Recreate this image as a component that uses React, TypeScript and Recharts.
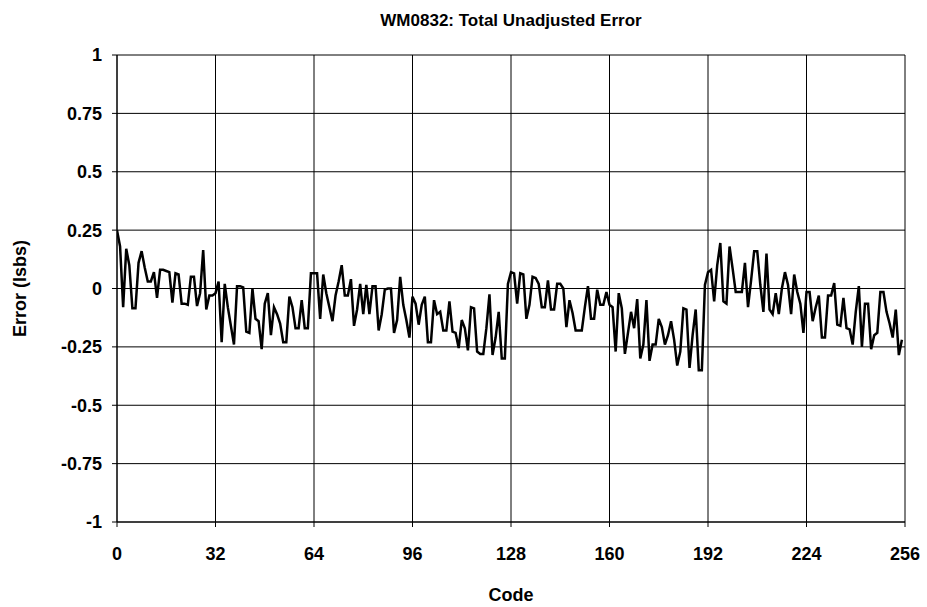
import React from "react";
import { LineChart, Line, XAxis, YAxis, CartesianGrid, Label } from "recharts";

const seg0 = [0.25, 0.18, -0.08, 0.17, 0.1, -0.085, -0.085, 0.11, 0.16, 0.09, 0.03, 0.03, 0.07, -0.04, 0.08, 0.08, 0.075, 0.07, -0.06, 0.065, 0.06, -0.065, -0.065, -0.07, 0.05, 0.05, -0.075, -0.02, 0.165, -0.09, -0.03, -0.03];
const seg1 = [-0.02, 0.03, -0.23, 0.02, -0.08, -0.16, -0.24, 0.01, 0.01, 0.005, -0.185, -0.19, 0.0, -0.13, -0.14, -0.26, -0.065, -0.02, -0.2, -0.08, -0.11, -0.15, -0.23, -0.23, -0.035, -0.08, -0.17, -0.17, -0.05, -0.17, -0.17, 0.065];
const seg2 = [0.065, 0.065, -0.13, 0.06, -0.02, -0.08, -0.14, -0.03, 0.03, 0.1, -0.03, -0.03, 0.04, -0.16, -0.09, 0.02, -0.11, 0.015, -0.11, 0.01, 0.01, -0.18, -0.11, -0.005, 0.0, 0.0, -0.19, -0.135, 0.05, -0.07, -0.135, -0.21];
const seg3 = [-0.035, -0.065, -0.155, -0.07, -0.035, -0.23, -0.23, -0.05, -0.11, -0.1, -0.18, -0.18, -0.055, -0.185, -0.19, -0.255, -0.135, -0.17, -0.265, -0.08, -0.085, -0.27, -0.28, -0.28, -0.17, -0.025, -0.285, -0.21, -0.1, -0.3, -0.3, 0.02];
const seg4 = [0.07, 0.065, -0.065, 0.065, 0.06, -0.13, -0.07, 0.05, 0.045, 0.02, -0.08, -0.08, 0.035, -0.09, -0.09, 0.02, 0.02, 0.0, -0.165, -0.05, -0.105, -0.18, -0.18, -0.18, -0.08, 0.01, -0.13, -0.13, -0.005, -0.07, -0.07, -0.015];
const seg5 = [-0.07, -0.08, -0.27, -0.02, -0.085, -0.28, -0.19, -0.1, -0.17, -0.045, -0.3, -0.24, -0.05, -0.31, -0.24, -0.24, -0.13, -0.165, -0.24, -0.2, -0.14, -0.22, -0.33, -0.27, -0.085, -0.09, -0.34, -0.2, -0.09, -0.35, -0.35, 0.015];
const seg6 = [0.07, 0.08, -0.055, 0.1, 0.195, -0.055, -0.065, 0.18, 0.085, -0.015, -0.015, -0.015, 0.11, -0.08, 0.035, 0.16, 0.16, 0.015, -0.1, 0.15, -0.09, -0.11, -0.02, -0.11, 0.0, 0.07, 0.015, -0.11, 0.06, -0.015, -0.065, -0.19];
const seg7 = [-0.015, -0.015, -0.14, -0.08, -0.03, -0.21, -0.21, -0.03, -0.03, 0.023, -0.155, -0.16, -0.04, -0.17, -0.175, -0.24, -0.1, 0.01, -0.25, -0.065, -0.065, -0.26, -0.2, -0.19, -0.015, -0.015, -0.1, -0.15, -0.21, -0.09, -0.285, -0.22];

const errorValues = [...seg0, ...seg1, ...seg2, ...seg3, ...seg4, ...seg5, ...seg6, ...seg7];
const xTicks = [0, 32, 64, 96, 128, 160, 192, 224, 256];
const yTicks = [-1, -0.75, -0.5, -0.25, 0, 0.25, 0.5, 0.75, 1];

const data = errorValues.map((v, i) => ({ code: i, err: v }));

const FONT = "'Liberation Sans', Arial, sans-serif";
const tickStyle = { fontFamily: FONT, fontWeight: 700, fontSize: 18, fill: "#000" };

export default function App() {
  return (
    <div style={{ position: "absolute", left: 0, top: 0, width: 927, height: 607, background: "#fff" }}>
      <div
        style={{
          position: "absolute",
          left: 117,
          width: 788,
          top: 11,
          textAlign: "center",
          fontFamily: FONT,
          fontWeight: 700,
          fontSize: 17,
          lineHeight: "20px",
          color: "#000",
        }}
      >
        WM0832: Total Unadjusted Error
      </div>
      <LineChart
        width={927}
        height={607}
        data={data}
        margin={{ top: 55, right: 22, bottom: 0, left: 0 }}
      >
        <CartesianGrid stroke="#000" strokeWidth={1} horizontalValues={yTicks} verticalValues={xTicks} />
        <XAxis
          dataKey="code"
          type="number"
          domain={[0, 256]}
          ticks={xTicks}
          interval={0}
          height={85}
          tickSize={5}
          tickMargin={20}
          stroke="#000"
          tick={tickStyle}
          allowDataOverflow
        >
          <Label
            value="Code"
            position="insideBottom"
            offset={6}
            style={{ fontFamily: FONT, fontWeight: 700, fontSize: 18, fill: "#000" }}
          />
        </XAxis>
        <YAxis
          type="number"
          domain={[-1, 1]}
          ticks={yTicks}
          interval={0}
          width={117}
          tickSize={5}
          tickMargin={10}
          stroke="#000"
          tick={tickStyle}
          allowDataOverflow
        >
          <Label
            value="Error (lsbs)"
            angle={-90}
            position="insideLeft"
            offset={20}
            style={{ textAnchor: "middle", fontFamily: FONT, fontWeight: 700, fontSize: 18, fill: "#000" }}
          />
        </YAxis>
        <Line
          type="linear"
          dataKey="err"
          stroke="#000"
          strokeWidth={2.5}
          dot={false}
          isAnimationActive={false}
        />
      </LineChart>
    </div>
  );
}
